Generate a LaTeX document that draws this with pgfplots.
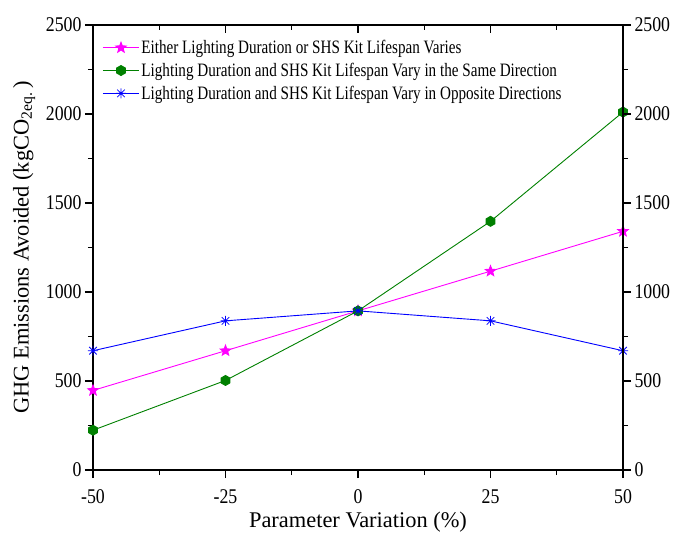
\documentclass[border=0pt]{standalone}
\usepackage{fontspec}
\setmainfont{Liberation Serif}
\newfontfamily\narrowserif[FakeStretch=0.85]{Liberation Serif}
\newfontfamily\legendserif[FakeStretch=0.8]{Liberation Serif}
\usepackage{pgfplots}
\pgfplotsset{compat=1.18}

% filled five-pointed star
\pgfdeclareplotmark{fstar}{%
  \pgfpathmoveto{\pgfpointpolar{90}{\pgfplotmarksize}}%
  \foreach \a in {126,198,270,342,54}{%
    \pgfpathlineto{\pgfpointpolar{\a}{0.42\pgfplotmarksize}}%
    \pgfpathlineto{\pgfpointpolar{\a+36}{\pgfplotmarksize}}}%
  \pgfpathclose
  \pgfusepathqfillstroke}
% filled hexagon
\pgfdeclareplotmark{fhex}{%
  \pgfpathmoveto{\pgfpointpolar{30}{\pgfplotmarksize}}%
  \foreach \a in {90,150,210,270,330}{%
    \pgfpathlineto{\pgfpointpolar{\a}{\pgfplotmarksize}}}%
  \pgfpathclose
  \pgfusepathqfillstroke}
% eight-armed asterisk
\pgfdeclareplotmark{ast8}{%
  \pgfpathmoveto{\pgfqpoint{-\pgfplotmarksize}{0pt}}%
  \pgfpathlineto{\pgfqpoint{\pgfplotmarksize}{0pt}}%
  \pgfpathmoveto{\pgfqpoint{0pt}{-\pgfplotmarksize}}%
  \pgfpathlineto{\pgfqpoint{0pt}{\pgfplotmarksize}}%
  \pgfpathmoveto{\pgfpoint{-0.75\pgfplotmarksize}{-0.75\pgfplotmarksize}}%
  \pgfpathlineto{\pgfpoint{0.75\pgfplotmarksize}{0.75\pgfplotmarksize}}%
  \pgfpathmoveto{\pgfpoint{-0.75\pgfplotmarksize}{0.75\pgfplotmarksize}}%
  \pgfpathlineto{\pgfpoint{0.75\pgfplotmarksize}{-0.75\pgfplotmarksize}}%
  \pgfusepathqstroke}

\definecolor{mag}{RGB}{255,0,255}
\definecolor{grn}{RGB}{0,128,0}
\definecolor{blu}{RGB}{0,0,255}

\pgfplotsset{
  frame/.style={
    scale only axis, width=530bp, height=445bp,
    at={(93bp,65bp)}, anchor=south west,
    xmin=-50, xmax=50, ymin=0, ymax=2500,
    xtick={-50,-25,0,25,50}, ytick={0,500,...,2500},
    minor x tick num=1, minor y tick num=1,
    axis line style={line width=1.6bp},
    major tick length=8bp, minor tick length=5bp,
    every tick/.style={black, line width=1.2bp},
    ticklabel style={font=\narrowserif\fontsize{21}{21}\selectfont},
    xticklabel style={yshift=-8bp},
    /pgf/number format/assume math mode=true,
    /pgf/number format/1000 sep={},
  }
}

\begin{document}
\begin{tikzpicture}
\path[use as bounding box] (0,0) rectangle (676bp,535bp);

\begin{axis}[frame,
  axis x line*=bottom, axis y line*=left, tick align=outside,
  xlabel={Parameter Variation (\%)},
  ylabel={GHG Emissions Avoided (kgCO\textsubscript{2eq.}\,)},
  label style={font=\fontsize{22.5}{22.5}\selectfont},
  xlabel style={at={(axis description cs:0.5,-0.117)}, anchor=center},
  ylabel style={at={(axis description cs:-0.13,0.5)}, anchor=center},
  legend style={at={(0.012,0.975)}, anchor=north west, draw=none, fill=none,
    font=\legendserif\fontsize{19}{22}\selectfont, row sep=4bp},
  legend cell align=left,
  legend image code/.code={\draw[mark repeat=2,mark phase=2]
    plot coordinates {(0bp,0bp) (18bp,0bp) (36bp,0bp)};},
]
\addplot[mag, line width=0.9bp, mark=fstar, mark size=5.5bp]
  coordinates {(-50,447) (-25,670) (0,894) (25,1117) (50,1341)};
\addlegendentry{Either Lighting Duration or SHS Kit Lifespan Varies}
\addplot[grn, line width=0.9bp, mark=fhex, mark size=5bp]
  coordinates {(-50,223.5) (-25,503) (0,894) (25,1397) (50,2011)};
\addlegendentry{Lighting Duration and SHS Kit Lifespan Vary in the Same Direction}
\addplot[blu, line width=0.9bp, mark=ast8, mark size=5bp, mark options={line width=0.8bp}]
  coordinates {(-50,670) (-25,838) (0,894) (25,838) (50,670)};
\addlegendentry{Lighting Duration and SHS Kit Lifespan Vary in Opposite Directions}
\end{axis}

% right-hand axis
\begin{axis}[frame,
  axis y line*=right, axis x line=none, tick align=outside,
  yticklabel pos=right]
\end{axis}

% top axis
\begin{axis}[frame,
  axis x line*=top, axis y line=none, tick align=inside,
  xticklabels={}]
\end{axis}
\end{tikzpicture}
\end{document}
